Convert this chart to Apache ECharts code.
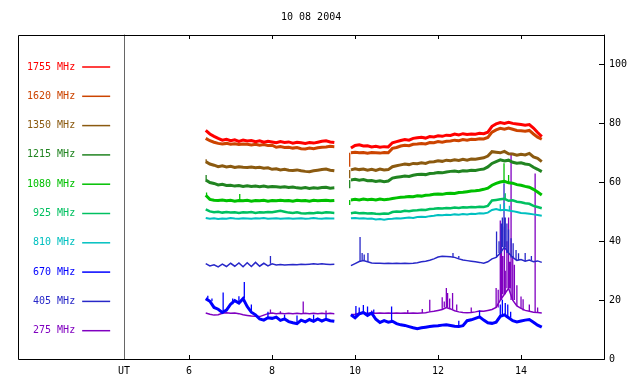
<!DOCTYPE html>
<html><head><meta charset="utf-8">
<script src="https://cdn.jsdelivr.net/npm/echarts@6/dist/echarts.min.js"></script>
<style>html,body{margin:0;padding:0;background:#fff}#c{width:640px;height:384px}</style>
</head><body><div id="c"></div>
<script>
const chartTitle = '10 08 2004';
const times = [6.4,6.5,6.6,6.7,6.8,6.9,7.0,7.1, 7.2,7.3,7.4,7.5,7.6,7.7,7.8,7.9, 8.0,8.1,8.2,8.3,8.4,8.5,8.6,8.7, 8.8,8.9,9.0,9.1,9.2,9.3,9.4,9.5,
  9.7,
  9.9,10.0,10.1,10.2,10.3,10.4,10.5,10.6,10.7,10.8, 10.9,11.0,11.1,11.2,11.3,11.4,11.5,11.6,11.7,11.8,
  11.9,12.0,12.1,12.2,12.3,12.4,12.5,12.6,12.7,12.8, 12.9,13.0,13.1,13.2,13.3,13.4,13.5,13.6,13.7,13.8, 13.9,14.0,14.1,14.2,14.3,14.4,14.5];

const f1755 = [77.6,76.4,75.6,74.9,74.3,74.6,74.1,74.4, 73.9,74.3,74.0,74.2,73.8,74.1,73.6,73.9, 73.7,73.4,73.8,73.5,73.7,73.3,73.6,73.4, 73.2,73.5,73.3,73.6,73.9,74.1,73.7,73.5,
  null,
  71.6,72.5,72.7,72.3,72.4,72.0,72.2,71.9,72.1,72.0, 73.4,73.8,74.2,74.5,74.3,74.9,75.1,75.3,75.0,75.5,
  75.4,75.8,75.6,76.0,75.9,76.4,76.1,76.5,76.2,76.4, 76.3,76.6,76.5,77.0,79.0,79.8,80.3,80.0,80.4,80.0, 79.8,79.6,79.4,79.6,78.4,76.9,75.5];
const f1620 = [74.9,74.1,73.6,73.2,73.0,73.2,72.9,73.1, 72.8,73.0,72.9,72.7,72.9,72.6,72.8,72.5, 72.6,71.9,72.1,71.8,71.9,71.6,71.8,71.4, 71.3,71.6,71.4,71.7,71.9,72.0,72.2,72.1,
  null,
  70.0,70.2,70.0,70.1,69.9,70.1,70.0,69.9,70.1,70.0, 71.5,71.8,72.3,72.6,72.4,72.9,73.0,73.2,73.0,73.5,
  73.4,73.8,73.6,73.9,74.0,74.3,74.1,74.5,74.3,74.6, 74.5,74.8,74.7,75.2,77.0,77.8,78.3,78.0,78.4,78.0, 77.6,77.5,77.3,77.6,76.4,75.3,74.6];
const f1350 = [67.0,66.2,65.8,65.3,65.6,65.2,65.4,65.0, 65.3,65.1,65.0,65.2,64.9,65.1,64.8,64.9, 64.4,64.6,64.2,64.4,64.1,64.0,64.2,63.9, 63.7,63.6,63.9,64.1,64.3,64.5,64.1,63.9,
  null,
  64.2,64.6,64.3,64.5,64.1,64.4,64.0,64.5,64.2,64.3, 65.3,65.6,65.9,66.2,66.0,66.4,66.3,66.6,66.4,66.9,
  67.0,67.3,67.1,67.5,67.3,67.6,67.4,67.8,67.5,67.9, 67.8,68.1,68.3,68.9,70.4,70.2,70.0,70.5,69.7,69.6, 69.2,69.5,69.3,69.8,68.6,68.1,67.0];
const f1215 = [60.8,59.9,59.6,59.1,59.3,58.9,59.0,58.7, 58.9,58.6,58.8,58.6,58.7,58.5,58.7,58.4, 58.6,58.5,58.3,58.5,58.2,58.4,58.1,58.0, 58.2,57.9,58.1,58.0,58.2,58.3,58.0,58.1,
  null,
  60.8,61.0,60.7,60.9,60.5,60.6,60.3,60.5,60.2,60.4, 61.4,61.7,61.9,62.1,62.0,62.4,62.6,62.7,62.6,63.0,
  63.1,63.3,63.2,63.5,63.7,63.8,63.6,63.9,63.8,64.1, 64.0,64.3,64.5,65.2,66.4,67.0,67.6,67.2,67.5,66.8, 66.5,66.6,66.2,66.0,65.1,64.4,63.6];
const f1080 = [55.6,54.2,53.9,53.8,54.0,53.7,53.9,53.6, 53.8,53.7,53.9,53.6,53.8,53.7,53.9,53.6, 53.8,53.7,53.9,53.7,53.8,53.6,53.9,53.7, 53.8,53.6,53.9,53.7,53.8,53.9,53.7,53.8,
  null,
  54.0,54.2,54.0,54.3,54.1,54.2,54.0,54.3,54.1,54.2, 54.5,54.7,54.9,55.0,55.2,55.1,55.4,55.3,55.6,55.7,
  55.9,56.0,55.9,56.2,56.3,56.2,56.5,56.6,56.8,57.0, 57.1,57.3,57.6,58.0,59.0,59.6,60.1,60.3,59.8,59.7, 59.2,59.0,58.6,58.3,57.6,56.7,55.7];
const f925 = [50.8,50.1,49.8,50.0,49.7,49.9,49.7,49.8, 49.6,49.8,49.7,49.9,49.6,49.8,49.7,49.9, 49.8,50.1,50.3,50.0,49.7,49.6,49.8,49.5, 49.4,49.6,49.5,49.7,49.6,49.8,49.7,49.6,
  null,
  49.5,49.7,49.5,49.6,49.4,49.5,49.3,49.2,49.4,49.3, 49.9,50.1,50.0,50.3,50.2,50.4,50.5,50.7,50.6,50.9,
  51.0,51.2,51.1,51.3,51.2,51.4,51.3,51.5,51.4,51.6, 51.5,51.7,51.6,52.0,53.8,54.0,54.2,54.4,53.7,53.9, 53.4,53.2,52.9,52.7,52.0,51.6,51.2];
const f810 = [47.9,47.6,47.8,47.5,47.7,47.6,47.9,47.7, 47.6,47.8,47.7,47.6,47.8,47.7,47.9,47.6, 47.7,47.8,47.6,47.7,47.8,47.6,47.7,47.8, 47.6,47.7,47.9,47.7,47.6,47.8,47.7,47.7,
  null,
  47.8,47.9,47.7,47.8,47.6,47.7,47.4,47.5,47.3,47.5, 47.6,47.8,47.7,47.9,48.0,47.9,48.2,48.3,48.2,48.5,
  48.6,48.9,48.8,49.0,48.9,49.1,49.0,49.2,49.1,49.3, 49.2,49.5,49.4,49.7,50.6,50.9,50.5,50.7,50.4,50.2, 49.9,49.6,49.5,49.3,49.1,48.9,48.6];
const f670 = [20.5,19.6,17.5,16.9,15.8,16.6,18.6,19.8, 19.0,20.5,17.8,15.9,15.0,13.6,13.2,14.0, 13.8,14.2,13.1,13.6,12.7,12.3,12.0,13.2, 12.6,13.4,12.8,13.6,12.9,13.5,13.0,12.8,
  null,
  15.0,14.0,15.3,15.8,14.8,15.6,13.5,12.4,13.0,12.5, 12.8,12.0,11.6,11.4,11.0,10.6,10.3,10.6,10.8,11.0,
  11.2,11.3,11.5,11.6,11.4,11.1,11.0,11.3,13.0,13.3, 13.8,14.3,13.2,12.3,12.1,12.5,14.5,15.0,14.0,13.0, 12.6,12.9,13.2,13.4,12.5,11.5,10.8];
const f405 = [32.4,31.6,32.0,31.3,32.2,31.4,32.5,31.5, 32.6,31.3,32.7,31.4,32.8,31.5,32.5,31.6, 32.3,31.9,32.1,31.9,32.0,32.1,32.0,32.2, 32.1,32.2,32.3,32.2,32.3,32.2,32.1,32.2,
  null,
  31.7,32.4,33.1,33.4,33.0,32.6,32.5,32.5,32.4,32.5, 32.4,32.5,32.4,32.5,32.4,32.5,32.7,33.0,33.2,33.5,
  34.0,34.6,34.9,34.8,34.7,34.5,34.0,33.6,33.4,33.2, 33.0,32.8,32.5,33.0,34.0,34.5,36.0,38.0,36.0,34.5, 33.5,33.8,33.2,33.6,33.0,33.3,32.8];
const f275 = [15.6,15.2,14.9,15.0,15.5,15.7,15.5,15.6, 15.4,15.0,14.8,14.6,14.5,14.4,14.9,15.4, 15.6,15.4,15.5,15.4,15.5,15.4,15.5,15.4, 15.5,15.4,15.5,15.4,15.5,15.4,15.5,15.4,
  null,
  15.0,15.2,15.5,15.6,15.5,15.6,15.5,15.6,15.5,15.6, 15.5,15.6,15.5,15.6,15.5,15.6,15.5,15.6,15.7,16.0,
  16.2,16.5,16.8,17.5,17.0,16.4,16.0,15.8,15.7,15.8, 16.0,16.3,16.2,16.5,16.8,17.5,20.0,22.0,24.0,20.0, 18.0,17.2,16.5,16.2,15.9,15.8,15.6];

// short spikes: [time, peak value]
const spikes1620 = [[9.87,65.3]];
const spikes1350 = [[6.41,67.8],[9.87,61.4]];
const spikes1215 = [[6.41,62.5],[9.87,58.0]];
const spikes1080 = [[6.42,56.5],[7.22,56.0],[9.87,52.3],[13.59,66.5],[13.7,62.5]];
const spikes925 = [[13.62,56.3]];
const spikes810 = [[13.5,52.5],[13.6,53.0],[13.72,52.0]];
const spikes670 = [[6.45,21.5],[6.55,20.5],[6.82,22.6],[7.05,20.5],[7.2,21.3],[7.33,26.1],[7.5,18.5],[7.9,16.0],[8.3,15.0],[8.6,14.8],[9.0,15.0],[9.3,15.2],
  [10.02,18.0],[10.1,17.5],[10.2,18.3],[10.3,17.8],[10.45,16.8],[10.88,17.8],[12.5,13.0],[13.0,16.5],[13.5,18.5],[13.55,20.1],[13.62,19.0],[13.68,18.5],[13.75,16.0]];
const spikes405 = [[7.96,35.0],[10.12,41.4],[10.17,36.0],[10.22,35.5],[10.31,36.0],[12.36,36.0],[12.5,35.0],
  [13.41,43.3],[13.47,40.0],[13.52,46.0],[13.55,48.0],[13.59,59.7],[13.62,48.0],[13.66,46.0],[13.7,44.0],[13.76,41.0],[13.81,39.3],[13.88,37.0],[13.94,35.9],[14.1,36.0],[14.25,35.0]];
const spikes275 = [[7.96,16.8],[8.2,16.2],[8.75,19.5],[9.3,16.5],[10.4,16.5],[11.27,16.6],[11.62,17.0],[11.8,20.1],[12.1,21.0],[12.15,19.5],[12.2,24.1],[12.23,22.4],[12.28,20.5],[12.35,22.4],[12.45,18.5],[12.8,17.5],
  [13.4,24.1],[13.45,23.5],[13.5,47.0],[13.53,38.0],[13.56,35.0],[13.6,45.0],[13.62,30.0],[13.66,40.0],[13.7,48.0],[13.73,33.0],[13.76,70.0],[13.8,35.0],[13.84,32.0],[13.9,25.0],[14.0,21.2],[14.05,20.3],[14.2,18.5],[14.34,63.0],[14.4,17.5]];

const names = ['1755 MHz','1620 MHz','1350 MHz','1215 MHz','1080 MHz',' 925 MHz',' 810 MHz',' 670 MHz',' 405 MHz',' 275 MHz'];
const colors = ['#ff0000','#cc4400','#8b5a10','#218421','#00c000','#00c060','#00c0c0','#0000ff','#2828c8','#8000c0'];
const values = [f1755,f1620,f1350,f1215,f1080,f925,f810,f670,f405,f275];
const spikeSets = [[],spikes1620,spikes1350,spikes1215,spikes1080,spikes925,spikes810,spikes670,spikes405,spikes275];
const lineWidths = [3,3,3,3,3,2.5,2,3,1.5,1.5];
const xTicks = [6,8,10,12,14];
const yTicks = [0,20,40,60,80,100];

const MONO = '"DejaVu Sans Mono", "Liberation Mono", monospace';

function baseAt(vals, t) {
  let best = -1, bd = 1e9;
  for (let k = 0; k < times.length; k++) {
    if (vals[k] == null) continue;
    const d = Math.abs(times[k] - t);
    if (d < bd) { bd = d; best = k; }
  }
  return vals[best];
}

const series = [];
for (let i = names.length - 1; i >= 0; i--) {
  const vals = values[i];
  series.push({
    name: names[i], type: 'line', symbol: 'none', animation: false,
    data: times.map((t, k) => [t, vals[k]]),
    lineStyle: { color: colors[i], width: lineWidths[i], join: 'miter' },
    itemStyle: { color: colors[i] }, connectNulls: false, z: 2
  });
  if (spikeSets[i].length) {
    const d = [];
    spikeSets[i].forEach(([t, p]) => { d.push([t, baseAt(vals, t)]); d.push([t, p]); d.push([t, null]); });
    series.push({
      name: names[i], type: 'line', symbol: 'none', animation: false,
      data: d, lineStyle: { color: colors[i], width: 1.3 }, itemStyle: { color: colors[i] },
      connectNulls: false, z: 2
    });
  }
}

const chart = echarts.init(document.getElementById('c'), null, { renderer: 'canvas' });
chart.setOption({
  backgroundColor: '#fff',
  animation: false,
  title: { text: chartTitle, left: 281, top: 12, padding: 0, textStyle: { fontFamily: MONO, fontSize: 10, fontWeight: 'normal', color: '#000' } },
  legend: {
    orient: 'vertical', left: 27, top: 62, padding: 0, align: 'right',
    itemWidth: 28, itemHeight: 10, itemGap: 19.3, selectedMode: false,
    icon: 'path://M0,0H28V1.5H0Z',
    textStyle: { fontFamily: MONO, fontSize: 10, lineHeight: 10, padding: [0, 2, 0, 0] },
    data: names.map((n, i) => ({ name: n, textStyle: { color: colors[i] }, itemStyle: { color: colors[i] } }))
  },
  grid: { left: 124, right: 36, top: 35, bottom: 25, containLabel: false },
  xAxis: [
    { type: 'value', min: 4.43, max: 16, position: 'bottom',
      axisLine: { onZero: false, lineStyle: { color: '#000', width: 1 } },
      axisTick: { inside: true, length: 4, customValues: xTicks, lineStyle: { color: '#000' } },
      axisLabel: { customValues: [4.43].concat(xTicks), formatter: v => (v < 5 ? 'UT' : String(v)), fontFamily: MONO, fontSize: 10, color: '#000', margin: 7 },
      splitLine: { show: false } },
    { type: 'value', min: 4.43, max: 16, position: 'top',
      axisLine: { onZero: false, lineStyle: { color: '#000', width: 1 } },
      axisTick: { inside: true, length: 4, customValues: xTicks, lineStyle: { color: '#000' } },
      axisLabel: { show: false }, splitLine: { show: false } }
  ],
  yAxis: [
    { type: 'value', min: 0, max: 110, position: 'right',
      axisLine: { show: true, onZero: false, lineStyle: { color: '#000', width: 1 } },
      axisTick: { show: true, inside: true, length: 5, customValues: yTicks, lineStyle: { color: '#000' } },
      axisLabel: { customValues: yTicks, fontFamily: MONO, fontSize: 10, color: '#000', margin: 5 },
      splitLine: { show: false } },
    { type: 'value', min: 0, max: 110, position: 'left',
      axisLine: { show: true, onZero: false, lineStyle: { color: '#666', width: 1 } },
      axisTick: { show: false }, axisLabel: { show: false }, splitLine: { show: false } }
  ],
  graphic: [
    { type: 'rect', silent: true, z: 100, shape: { x: 18.5, y: 35.5, width: 586, height: 324 },
      style: { fill: 'none', stroke: '#000', lineWidth: 1 } }
  ],
  series: series
});
</script>
</body></html>
